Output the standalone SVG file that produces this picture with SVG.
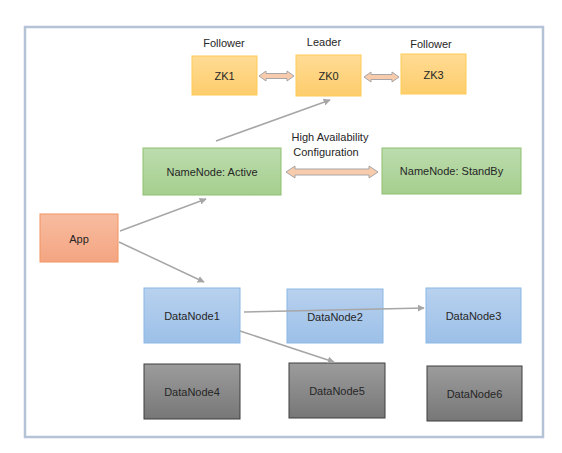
<svg xmlns="http://www.w3.org/2000/svg" width="562" height="453" viewBox="0 0 562 453">
<defs>
<linearGradient id="gY" x1="0" y1="0" x2="0" y2="1"><stop offset="0" stop-color="#ffdb94"/><stop offset="1" stop-color="#fdcd6c"/></linearGradient>
<linearGradient id="gG" x1="0" y1="0" x2="0" y2="1"><stop offset="0" stop-color="#bcdcae"/><stop offset="1" stop-color="#a6cf8e"/></linearGradient>
<linearGradient id="gO" x1="0" y1="0" x2="0" y2="1"><stop offset="0" stop-color="#f7bca0"/><stop offset="1" stop-color="#f4a582"/></linearGradient>
<linearGradient id="gB" x1="0" y1="0" x2="0" y2="1"><stop offset="0" stop-color="#b8d1ee"/><stop offset="1" stop-color="#9cc0e8"/></linearGradient>
<linearGradient id="gK" x1="0" y1="0" x2="0" y2="1"><stop offset="0" stop-color="#9c9c9c"/><stop offset="1" stop-color="#777777"/></linearGradient>
<marker id="ah" viewBox="0 0 10 10" refX="9" refY="5" markerWidth="7" markerHeight="7" markerUnits="userSpaceOnUse" orient="auto"><path d="M0,0 L10,5 L0,10 Z" fill="#a6a6a6"/></marker>
</defs>
<style>
text{font-family:"Liberation Sans",Arial,sans-serif;font-size:11px;fill:#262626;text-anchor:middle}
.y{fill:url(#gY);stroke:#ffcc55;stroke-width:1}
.g{fill:url(#gG);stroke:#8fc06f;stroke-width:1}
.o{fill:url(#gO);stroke:#f29460;stroke-width:1}
.b{fill:url(#gB);stroke:#8ab8e6;stroke-width:1}
.k{fill:url(#gK);stroke:#3f3f3f;stroke-width:1}
.ln{stroke:#a6a6a6;stroke-width:1.5;fill:none;marker-end:url(#ah)}
.da{fill:#f8cbad;stroke:#a6a6a6;stroke-width:1}
</style>
<rect x="0" y="0" width="562" height="453" fill="#ffffff"/>
<rect x="25" y="27" width="518" height="410" fill="#ffffff" stroke="#b4c3d6" stroke-width="2.5"/>

<text x="224" y="47">Follower</text>
<text x="324" y="46">Leader</text>
<text x="431" y="48">Follower</text>
<text x="330" y="141">High Availability</text>
<text x="326" y="156">Configuration</text>

<g id="ZK1"><rect class="y" x="192" y="56" width="65" height="39"/><text x="224.5" y="80">ZK1</text></g>
<g id="ZK0"><rect class="y" x="296" y="55" width="65" height="41"/><text x="328.5" y="80">ZK0</text></g>
<g id="ZK3"><rect class="y" x="401" y="54" width="65" height="40"/><text x="433.5" y="79">ZK3</text></g>
<g id="NameNodeActive"><rect class="g" x="143" y="148" width="138" height="47"/><text x="212" y="176">NameNode: Active</text></g>
<g id="NameNodeStandBy"><rect class="g" x="382" y="148" width="139" height="46"/><text x="451.5" y="175">NameNode: StandBy</text></g>
<g id="App"><rect class="o" x="40" y="214" width="78" height="48"/><text x="79" y="243">App</text></g>
<g id="DataNode1"><rect class="b" x="144" y="288" width="96" height="55"/><text x="192" y="320">DataNode1</text></g>
<g id="DataNode2"><rect class="b" x="287" y="289" width="96" height="54"/><text x="335" y="321">DataNode2</text></g>
<g id="DataNode3"><rect class="b" x="426" y="288" width="95" height="55"/><text x="473.5" y="320">DataNode3</text></g>
<g id="DataNode4"><rect class="k" x="144" y="364" width="96" height="55"/><text x="192" y="396">DataNode4</text></g>
<g id="DataNode5"><rect class="k" x="289" y="363" width="96" height="55"/><text x="337" y="395">DataNode5</text></g>
<g id="DataNode6"><rect class="k" x="427" y="366" width="95" height="55"/><text x="474.5" y="398">DataNode6</text></g>

<g id="connectors">
<path class="da" d="M259,76 L266,71 L266,73.5 L287,73.5 L287,71 L294,76 L287,81 L287,78.5 L266,78.5 L266,81 Z"/>
<path class="da" d="M364,77 L371,72 L371,74.5 L392,74.5 L392,72 L399,77 L392,82 L392,79.5 L371,79.5 L371,82 Z"/>
<path class="da" d="M286,172 L295,166 L295,169 L369,169 L369,166 L378,172 L369,178 L369,175 L295,175 L295,178 Z"/>
<line class="ln" x1="216" y1="141" x2="330" y2="100"/>
<line class="ln" x1="120" y1="231" x2="206" y2="199"/>
<line class="ln" x1="119" y1="242" x2="204" y2="282"/>
<line class="ln" x1="244" y1="312" x2="424" y2="308"/>
<line class="ln" x1="240" y1="331" x2="334" y2="362"/>
</g>
</svg>
